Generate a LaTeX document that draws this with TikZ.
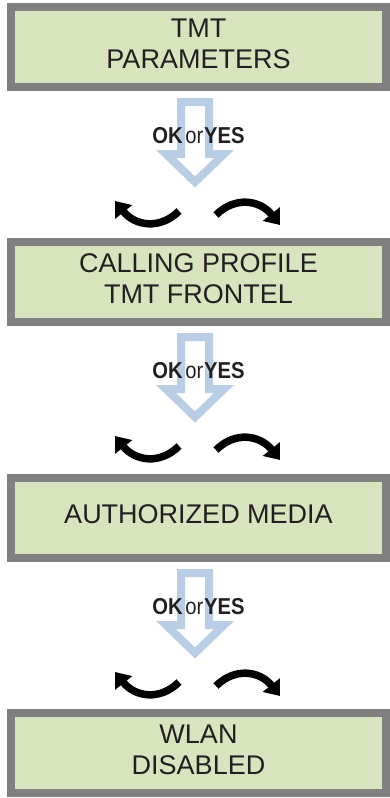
\documentclass[tikz,border=0pt]{standalone}
\usepackage{fontspec}
\setmainfont{Liberation Sans}
\usetikzlibrary{arrows.meta}
\definecolor{lcdgreen}{HTML}{D7E4BD}
\definecolor{lcdgray}{HTML}{808080}
\definecolor{arrowblue}{HTML}{B9CDE5}
\definecolor{textdark}{HTML}{231F20}

\begin{document}
\begin{tikzpicture}[x=1pt, y=-1pt]
  % stijlen
  \tikzset{
    lcdbox/.style={draw=lcdgray, fill=lcdgreen, line width=8pt, minimum width=375pt,
      minimum height=80pt, align=center, text=textdark, text depth=7pt,
      font=\fontsize{27}{30.5}\selectfont},
    hollowarrow/.style={draw=arrowblue, line width=8pt, line join=miter},
    bendarrow/.style={line width=7.5pt, -{Triangle[length=14pt,width=21pt]}},
    keytext/.style={text=textdark, font=\fontsize{23}{23}\selectfont}
  }
  \useasboundingbox (0,0) rectangle (390,798);
  % schermen
  \node[lcdbox] (params) at (198.5,47) {TMT\\PARAMETERS};
  \node[lcdbox] (profile) at (198.5,282) {CALLING PROFILE\\TMT FRONTEL};
  \node[lcdbox] (media) at (198.5,518) {AUTHORIZED MEDIA};
  \node[lcdbox] (wlan) at (198.5,753) {WLAN\\DISABLED};
  % overgangen tussen de schermen
  \foreach \scr in {params,profile,media}{
    \begin{scope}[shift={(\scr.south)}]
      \draw[hollowarrow] (-17.5,11) -- (10.5,11) -- (10.5,63) -- (25.5,63)
        -- (-3.5,91) -- (-32.5,63) -- (-17.5,63) -- cycle;
      \node[keytext, anchor=base] (key-\scr) at (0,52)
        {\scalebox{0.88}[1]{\textbf{OK}\kern3pt or\kern1pt\textbf{YES}}};
      \draw[bendarrow] (-19.5,120) .. controls (-38.5,139) and (-63.5,135) .. (-83.5,110);
      \draw[bendarrow] (17.5,124) .. controls (36.5,105) and (61.5,109) .. (81.5,134);
    \end{scope}
  }
\end{tikzpicture}
\end{document}
